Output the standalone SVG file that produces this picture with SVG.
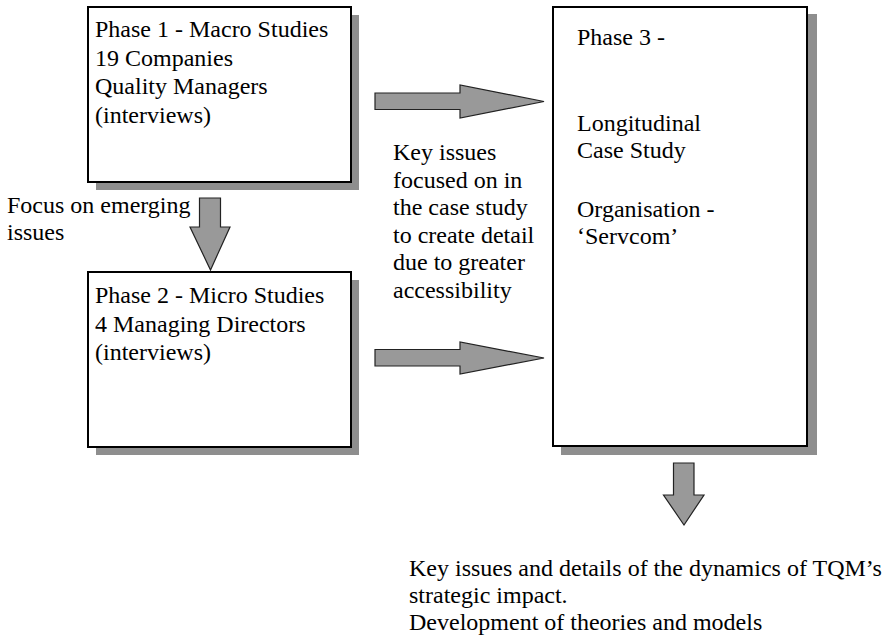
<svg xmlns="http://www.w3.org/2000/svg" width="886" height="637" viewBox="0 0 886 637">
<style>
.box{fill:#fff;stroke:#000;stroke-width:2}
.sh{fill:#8e8e8e}
.arr{fill:#999;stroke:#222;stroke-width:1.2;stroke-linejoin:miter}
text{font-family:"Liberation Serif","Times New Roman",serif;font-size:24px;fill:#000}
</style>
<rect width="886" height="637" fill="#fff"/>
<g id="phase1">
<rect class="sh" x="96" y="15" width="263" height="175"/>
<rect class="box" x="88" y="7" width="263" height="175"/>
<text x="95" y="37">Phase 1 - Macro Studies</text>
<text x="95" y="66">19 Companies</text>
<text x="95" y="94">Quality Managers</text>
<text x="95" y="123">(interviews)</text>
</g>
<g id="phase2">
<rect class="sh" x="96" y="280" width="263" height="175"/>
<rect class="box" x="88" y="272" width="263" height="175"/>
<text x="95" y="303">Phase 2 - Micro Studies</text>
<text x="95" y="332">4 Managing Directors</text>
<text x="95" y="360">(interviews)</text>
</g>
<g id="phase3">
<rect class="sh" x="561" y="14" width="256" height="441"/>
<rect class="box" x="553" y="7" width="254" height="439"/>
<text x="577" y="45">Phase 3 -</text>
<text x="577" y="131">Longitudinal</text>
<text x="577" y="158">Case Study</text>
<text x="577" y="217">Organisation -</text>
<text x="577" y="244">‘Servcom’</text>
</g>
<g id="focus-label">
<text x="7" y="213">Focus on emerging</text>
<text x="7" y="240">issues</text>
</g>
<g id="key-issues-label">
<text x="393" y="160">Key issues</text>
<text x="393" y="188">focused on in</text>
<text x="393" y="215">the case study</text>
<text x="393" y="243">to create detail</text>
<text x="393" y="270">due to greater</text>
<text x="393" y="298">accessibility</text>
</g>
<g id="outcome">
<text x="409" y="576">Key issues and details of the dynamics of TQM’s</text>
<text x="409" y="603">strategic impact.</text>
<text x="409" y="630">Development of theories and models</text>
</g>
<g id="connectors">
<polygon class="arr" points="375,93 460,93 460,85 544,101.5 460,118 460,109.5 375,109.5"/>
<polygon class="arr" points="375,349.5 460,349.5 460,342 544,358 460,374 460,366 375,366"/>
<polygon class="arr" points="199.5,198 220.5,198 220.5,227 230,227 210.5,270 190,227 199.5,227"/>
<polygon class="arr" points="673.5,463 694,463 694,495 704,495 684,525 663.5,495 673.5,495"/>
</g>
</svg>
